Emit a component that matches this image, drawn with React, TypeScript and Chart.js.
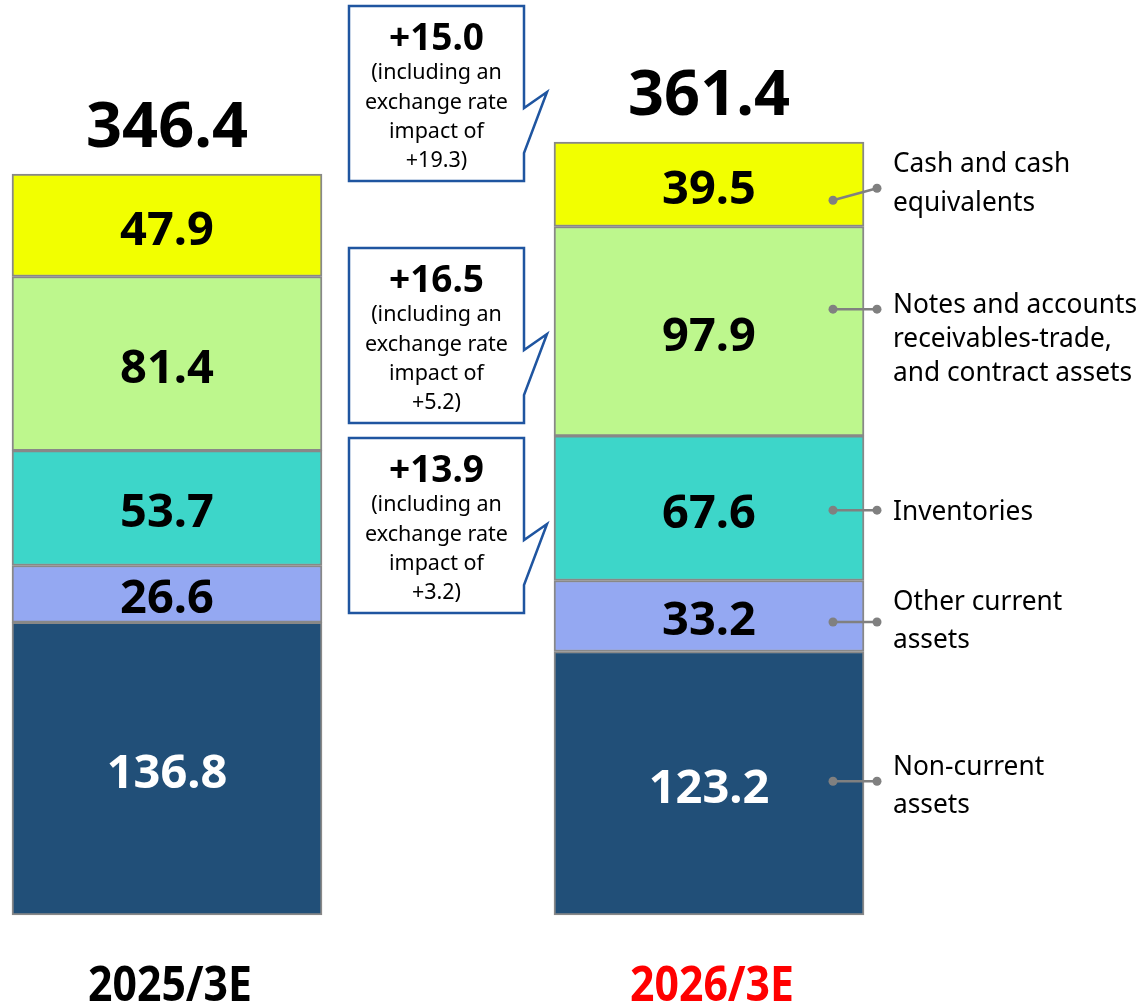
import React, { useEffect, useRef } from "react";
import { Chart, registerables } from "chart.js";

Chart.register(...registerables);

// ---- data ----
const periods = ["2025/3E", "2026/3E"];
const categoryLabels = ["2025/3E", "", "2026/3E", ""];
const segmentNames = [
  "Non-current assets",
  "Other current assets",
  "Inventories",
  "Notes and accounts receivables-trade, and contract assets",
  "Cash and cash equivalents",
];
const values2025 = [136.8, 26.6, 53.7, 81.4, 47.9];
const values2026 = [123.2, 33.2, 67.6, 97.9, 39.5];
const totals = [346.4, 361.4];
const legendLines = [
  ["Non-current", "assets"],
  ["Other current", "assets"],
  ["Inventories"],
  ["Notes and accounts", "receivables-trade,", "and contract assets"],
  ["Cash and cash", "equivalents"],
];
const calloutDeltas = ["+15.0", "+16.5", "+13.9"];
const calloutImpacts = ["+19.3", "+5.2", "+3.2"];
const yMax = 400;

// ---- styles ----
const segmentColors = ["#214F78", "#94A8F2", "#3DD6C9", "#BDF78D", "#F2FF00"];
const labelColors = ["#FFFFFF", "#000000", "#000000", "#000000", "#000000"];
const periodColors = ["#000000", "#FF0000"];
const FONT = "'Noto Sans', 'Open Sans', sans-serif";

const annotationPlugin = {
  id: "annotations",
  afterDatasetsDraw(chart: any) {
    const ctx = chart.ctx as CanvasRenderingContext2D;
    const xs = chart.scales.x;
    const barIdx = [0, 2];
    ctx.save();
    ctx.textAlign = "center";
    ctx.textBaseline = "middle";

    // segment values
    chart.data.datasets.forEach((ds: any, d: number) => {
      const meta = chart.getDatasetMeta(d);
      barIdx.forEach((i) => {
        const el = meta.data[i];
        const v = ds.data[i];
        if (!el || v == null) return;
        ctx.fillStyle = labelColors[d];
        ctx.font = `bold 47px ${FONT}`;
        ctx.fillText(v.toFixed(1), el.x, (el.y + el.base) / 2 + 6);
      });
    });

    // totals
    const topMeta = chart.getDatasetMeta(chart.data.datasets.length - 1);
    barIdx.forEach((i, k) => {
      const el = topMeta.data[i];
      ctx.fillStyle = "#000";
      ctx.font = `bold 63px ${FONT}`;
      ctx.fillText(totals[k].toFixed(1), el.x, el.y - 45);
    });

    // period labels (condensed bold)
    const baseY = chart.chartArea.bottom;
    barIdx.forEach((i, k) => {
      const cx = xs.getPixelForValue(i) + 3;
      ctx.font = `bold 48px ${FONT}`;
      const w = ctx.measureText(periods[k]).width;
      const sx = 164 / w;
      ctx.save();
      ctx.translate(cx, baseY + 72);
      ctx.scale(sx, 1);
      ctx.fillStyle = periodColors[k];
      ctx.fillText(periods[k], 0, 0);
      ctx.restore();
    });

    // callouts
    const ccx = xs.getPixelForValue(1) - 1.5;
    const boxW = 175;
    const boxH = 175;
    const tops = [6, 248, 438];
    tops.forEach((top, k) => {
      const left = ccx - boxW / 2;
      const right = ccx + boxW / 2;
      const bottom = top + boxH;
      ctx.beginPath();
      ctx.moveTo(left, top);
      ctx.lineTo(right, top);
      ctx.lineTo(right, top + 102);
      ctx.lineTo(right + 23, top + 86);
      ctx.lineTo(right, top + 147);
      ctx.lineTo(right, bottom);
      ctx.lineTo(left, bottom);
      ctx.closePath();
      ctx.fillStyle = "#FFFFFF";
      ctx.fill();
      ctx.strokeStyle = "#1F55A0";
      ctx.lineWidth = 2.5;
      ctx.lineJoin = "miter";
      ctx.stroke();
      ctx.fillStyle = "#000";
      ctx.font = `bold 37px ${FONT}`;
      ctx.fillText(calloutDeltas[k], ccx, top + 33);
      ctx.font = `21.5px ${FONT}`;
      const lines = ["(including an", "exchange rate", "impact of", calloutImpacts[k] + ")"];
      const offs = [67, 97, 126, 155];
      lines.forEach((ln, j) => ctx.fillText(ln, ccx, top + offs[j]));
    });

    // right-side segment legends with leader lines
    const rMeta = (d: number) => chart.getDatasetMeta(d).data[2];
    const dotOffsets = [-2, 6, 2, -22, 16];
    const dot2Offsets = [-2, 6, 2, -22, 4];
    const textOffsets = [
      [-17, 21],
      [-15, 23],
      [3],
      [-27, 7, 41],
      [-21, 18],
    ];
    ctx.font = `28px ${FONT}`;
    let maxW = 0;
    legendLines.forEach((ls) => ls.forEach((ln) => (maxW = Math.max(maxW, ctx.measureText(ln).width))));
    const lsx = Math.min(1, 244 / maxW);
    chart.data.datasets.forEach((_ds: any, d: number) => {
      const el = rMeta(d);
      const cy = (el.y + el.base) / 2;
      const barRight = el.x + 155;
      const x1 = barRight - 31;
      const x2 = barRight + 13;
      const y1 = cy + dotOffsets[d];
      const y2 = cy + dot2Offsets[d];
      ctx.strokeStyle = "#808080";
      ctx.fillStyle = "#808080";
      ctx.lineWidth = 2.5;
      ctx.beginPath();
      ctx.moveTo(x1, y1);
      ctx.lineTo(x2, y2);
      ctx.stroke();
      [[x1, y1], [x2, y2]].forEach(([px, py]) => {
        ctx.beginPath();
        ctx.arc(px, py, 4.5, 0, Math.PI * 2);
        ctx.fill();
      });
      ctx.fillStyle = "#000";
      ctx.textAlign = "left";
      legendLines[d].forEach((ln, j) => {
        ctx.save();
        ctx.translate(barRight + 29, cy + textOffsets[d][j] + 1);
        ctx.scale(lsx, 1);
        ctx.fillText(ln, 0, 0);
        ctx.restore();
      });
      ctx.textAlign = "center";
    });

    ctx.restore();
  },
};

export default function App() {
  const ref = useRef<HTMLCanvasElement | null>(null);
  useEffect(() => {
    if (!ref.current) return;
    const datasets = segmentNames.map((name, d) => ({
      label: name,
      data: [values2025[d], null, values2026[d], null],
      backgroundColor: segmentColors[d],
      borderColor: "#888888",
      borderWidth: 2,
      borderSkipped: false as const,
      barThickness: 310,
      clip: false as const,
      stack: "s",
    }));
    const chart = new Chart(ref.current, {
      type: "bar",
      data: { labels: categoryLabels, datasets },
      options: {
        responsive: false,
        animation: false,
        devicePixelRatio: 1,
        layout: { padding: { left: 31.5, right: 24.5, top: 59.4, bottom: 88 } },
        plugins: { legend: { display: false }, tooltip: { enabled: false } },
        scales: {
          x: { display: false, stacked: true, grid: { display: false } },
          y: { display: false, stacked: true, min: 0, max: yMax, grid: { display: false } },
        },
      },
      plugins: [annotationPlugin],
    });
    return () => chart.destroy();
  }, []);
  return (
    <div style={{ position: "fixed", left: 0, top: 0, width: 1140, height: 1003, background: "#fff" }}>
      <canvas ref={ref} width={1140} height={1003} style={{ display: "block" }} />
    </div>
  );
}
